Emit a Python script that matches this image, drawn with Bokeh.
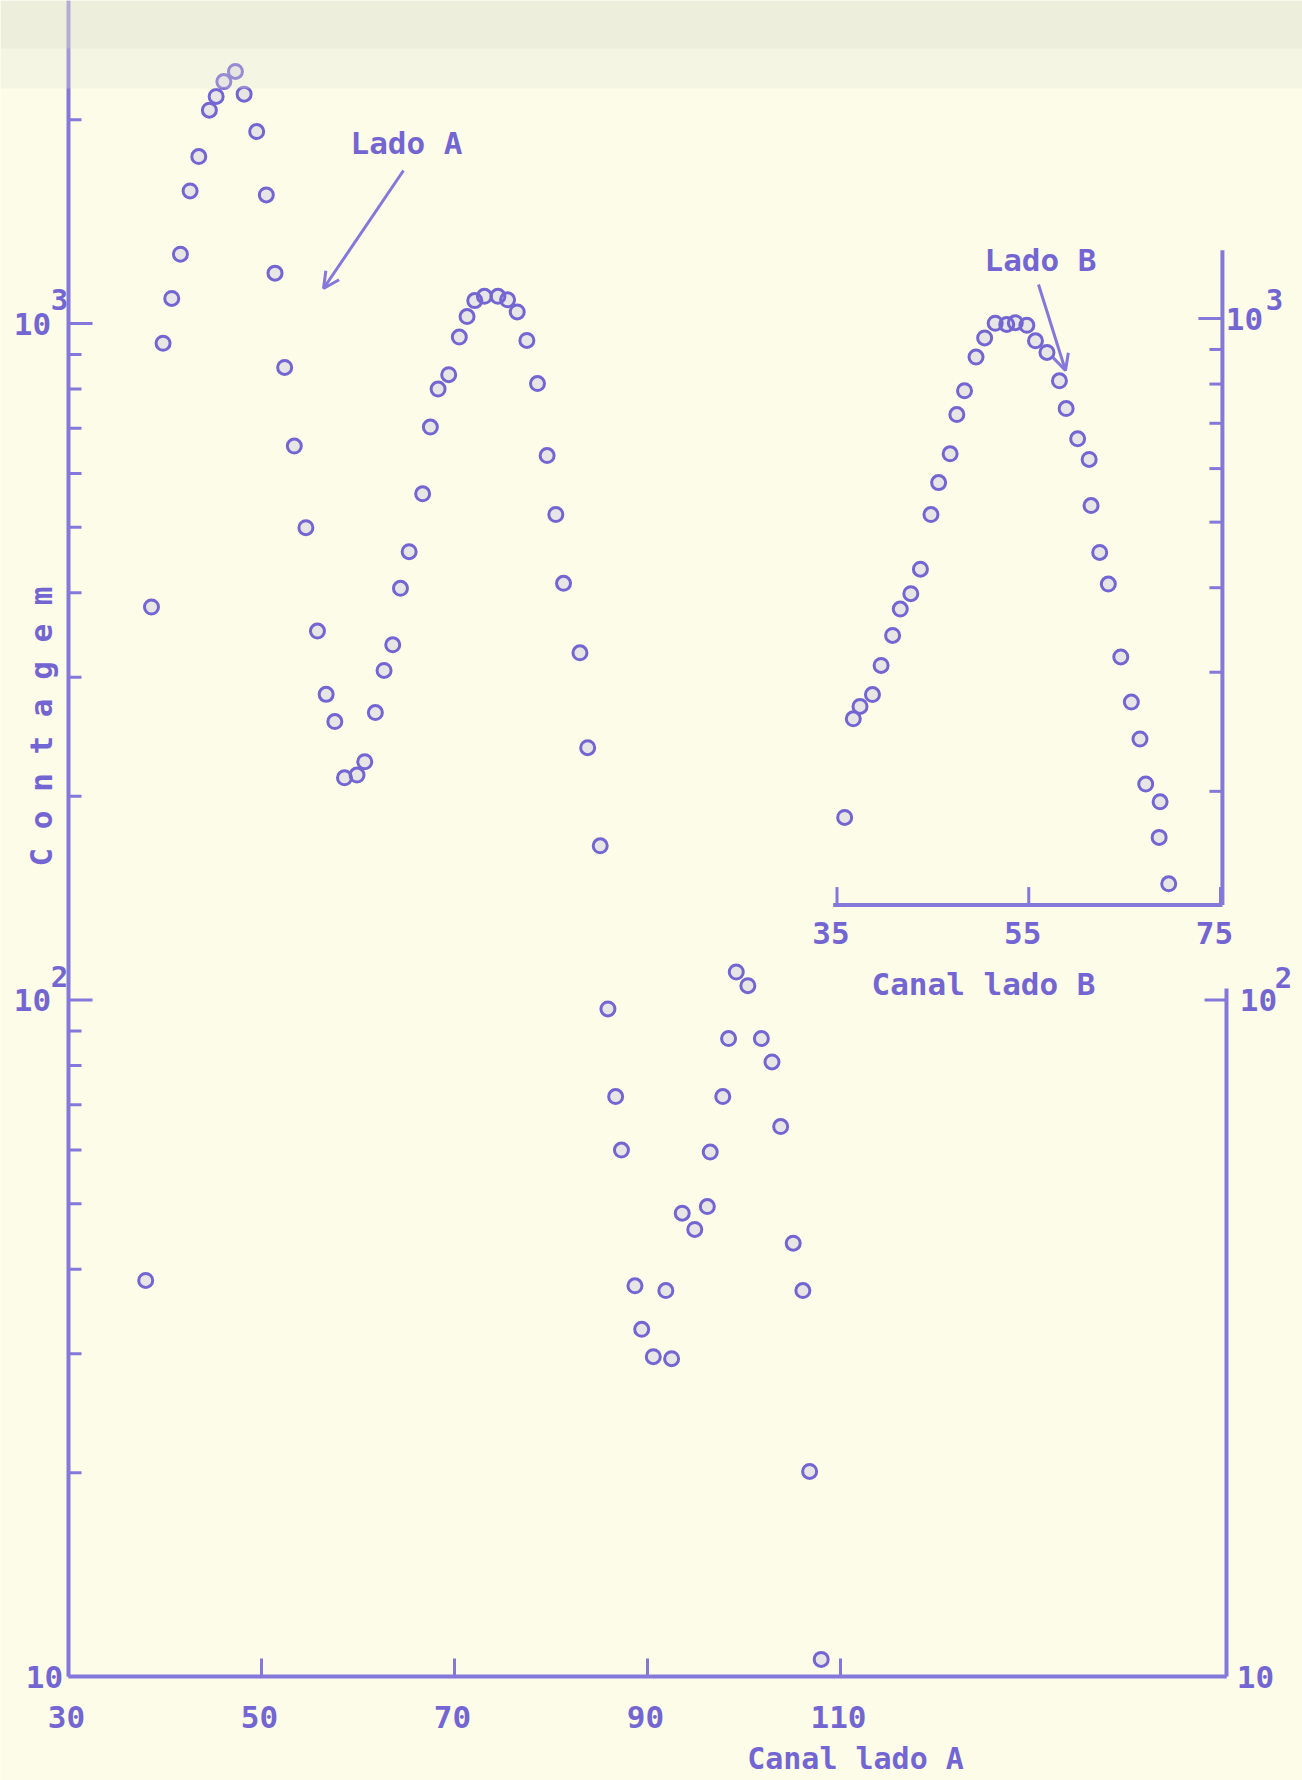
import math
from bokeh.plotting import figure
from bokeh.models import Range1d, LogScale, Arrow, OpenHead, BoxAnnotation
from bokeh.core.properties import value
from bokeh.embed import file_html
from bokeh.resources import INLINE

# ---------------- data ----------------
canal_a = [38.0, 38.6, 39.8, 40.7, 41.6, 42.6, 43.5, 44.6, 45.3, 46.1,
           47.3, 48.2, 49.5, 50.5, 51.4, 52.4, 53.4, 54.6, 55.8, 56.7,
           57.6, 58.6, 59.9, 60.7, 61.8, 62.7, 63.6, 64.4, 65.3, 66.7,
           67.5, 68.3, 69.4, 70.5, 71.3, 72.1, 73.1, 74.5, 75.5, 76.5,
           77.5, 78.6, 79.6, 80.5, 81.3, 83.0, 83.8, 85.1, 85.9, 86.7,
           87.3, 88.7, 89.4, 90.6, 91.9, 92.5, 93.6, 94.9, 96.2, 96.5,
           97.8, 98.4, 99.2, 100.4, 101.8, 102.9, 103.8, 105.1, 106.1, 106.8,
           108.0]
contagem_a = [38.5, 381, 935, 1089, 1266, 1570, 1765, 2067, 2166, 2278,
              2358, 2183, 1922, 1549, 1187, 861, 659, 499, 351, 283,
              258, 213, 215, 225, 266, 307, 335, 406, 460, 560,
              703, 800, 840, 955, 1024, 1081, 1097, 1097, 1084, 1040,
              944, 815, 638, 522, 413, 326, 236, 169, 97, 72,
              60, 37.8, 32.6, 29.7, 37.2, 29.5, 48.4, 45.8, 49.5, 59.6,
              72, 87.7, 110, 105, 87.7, 81, 65, 43.7, 37.2, 20.1,
              10.6]

canal_b = [35.8, 36.7, 37.4, 38.7, 39.6, 40.8, 41.6, 42.7, 43.7, 44.8,
           45.6, 46.8, 47.5, 48.3, 49.5, 50.4, 51.5, 52.7, 53.6, 54.8,
           55.7, 56.9, 58.2, 58.9, 60.1, 61.3, 61.5, 62.4, 63.3, 64.6,
           65.7, 66.6, 67.2, 68.7, 68.6, 69.6]
contagem_b = [183, 256, 267, 278, 307, 340, 372, 392, 426, 513,
              572, 631, 721, 782, 877, 936, 984, 980, 986, 977,
              927, 891, 809, 736, 664, 619, 529, 451, 405, 316,
              271, 239, 205, 193, 171, 146]

# axis A (Lado A)
x_a_start, x_a_end = 30, 150
x_ticks_a = [30, 50, 70, 90, 110]
x_labels_a = ["30", "50", "70", "90", "110"]
y_major = [10, 100, 1000]
y_major_exp = ["", "2", "3"]
y_minor = [20, 30, 40, 50, 60, 70, 80, 90,
           200, 300, 400, 500, 600, 700, 800, 900, 2000]
y_right_top = 104
y_right_major = [10, 100]
y_right_exp = ["", "2"]

# axis B (Lado B, inset)
x_ticks_b = [35, 55, 75]
x_labels_b = ["35", "55", "75"]
x_b_start, x_b_end = 34.6, 75.2
y_b_bottom, y_b_top = 135.8, 1262
inset_y_minor = [200, 300, 400, 500, 600, 700, 800, 900]
inset_y_major = [1000]
inset_y_exp = ["3"]

# ---------------- style ----------------
INK = "#7466d2"
AXIS = "#8478da"
BG = "#fdfce9"
FONT = "DejaVu Sans Mono"
FS = "31px"
FS_EXP = "29px"

# ---------------- geometry (page px of the 1302x1780 reference) ----------------
W, H = 1302, 1780
FL, FR, FB = 68, 1226, 1676        # page px of x=30, x=150, y=10
DEC = 676.5                         # page px per decade
AX = (FR - FL) / (x_a_end - x_a_start)
BX0, BXU = 836.5, (1220 - 836.5) / 40.0   # inset: page px of x=35, px per channel
BY3 = 318                                # inset: page px of 10^3


def dx(X):
    return x_a_start + (X - FL) / AX


def dy(Y):
    return 10 ** (1 + (FB - Y) / DEC)


p = figure(width=W, height=H,
           x_range=Range1d(dx(0), dx(W)), y_range=Range1d(dy(H), dy(0)),
           y_axis_type="log", output_backend="svg", toolbar_location=None,
           x_axis_location=None, y_axis_location=None,
           min_border_left=0, min_border_right=0, min_border_top=0, min_border_bottom=0)
p.background_fill_color = BG
p.border_fill_color = BG
p.outline_line_color = None
p.xgrid.visible = False
p.ygrid.visible = False

p.extra_x_ranges = {"bx": Range1d(35 + (0 - BX0) / BXU, 35 + (W - BX0) / BXU)}
p.extra_y_ranges = {"by": Range1d(10 ** (3 - (H - BY3) / DEC), 10 ** (3 - (0 - BY3) / DEC))}
p.extra_y_scales = {"by": LogScale()}
RB = dict(x_range_name="bx", y_range_name="by")

# scan shading at the top of the sheet
p.add_layout(BoxAnnotation(bottom=dy(88), fill_color="#e4e4d8", fill_alpha=0.30, line_color=None))
p.add_layout(BoxAnnotation(bottom=dy(48), fill_color="#dedfd2", fill_alpha=0.30, line_color=None))

ytop = p.y_range.end


def up(v, px):
    return v * 10 ** (px / DEC)


# ---------------- axes of Lado A ----------------
p.segment(x0=[x_a_start, x_a_start, x_a_end], y0=[y_major[0], y_major[0], y_major[0]],
          x1=[x_a_start, x_a_end, x_a_end], y1=[ytop, y_major[0], y_right_top],
          line_color=AXIS, line_width=4)
# left ticks (pointing inwards)
p.segment(x0=[x_a_start] * len(y_major), y0=y_major,
          x1=[x_a_start + 24 / AX] * len(y_major), y1=y_major, line_color=AXIS, line_width=3)
p.segment(x0=[x_a_start] * len(y_minor), y0=y_minor,
          x1=[x_a_start + 13 / AX] * len(y_minor), y1=y_minor, line_color=AXIS, line_width=3)
# bottom ticks
p.segment(x0=x_ticks_a, y0=[y_major[0]] * len(x_ticks_a), x1=x_ticks_a,
          y1=[up(y_major[0], 18)] * len(x_ticks_a), line_color=AXIS, line_width=3)
# right ticks
p.segment(x0=[x_a_end] * len(y_right_major), y0=y_right_major,
          x1=[x_a_end - 22 / AX] * len(y_right_major), y1=y_right_major,
          line_color=AXIS, line_width=3)

# ---------------- axes of Lado B (inset) ----------------
p.segment(x0=[x_b_start, x_b_end], y0=[y_b_bottom, y_b_bottom], x1=[x_b_end, x_b_end],
          y1=[y_b_bottom, y_b_top], line_color=AXIS, line_width=4, **RB)
p.segment(x0=x_ticks_b, y0=[y_b_bottom] * len(x_ticks_b), x1=x_ticks_b,
          y1=[up(y_b_bottom, 18)] * len(x_ticks_b), line_color=AXIS, line_width=3, **RB)
p.segment(x0=[x_b_end] * len(inset_y_minor), y0=inset_y_minor,
          x1=[x_b_end - 13 / BXU] * len(inset_y_minor), y1=inset_y_minor,
          line_color=AXIS, line_width=3, **RB)
p.segment(x0=[x_b_end] * len(inset_y_major), y0=inset_y_major,
          x1=[x_b_end - 24 / BXU] * len(inset_y_major), y1=inset_y_major,
          line_color=AXIS, line_width=3, **RB)

# ---------------- points ----------------
p.scatter(canal_a, contagem_a, marker="circle", size=14, line_color=INK, line_width=3,
          fill_color=INK, fill_alpha=0.15)
p.scatter(canal_b, contagem_b, marker="circle", size=14, line_color=INK, line_width=3,
          fill_color=INK, fill_alpha=0.15, **RB)


# ---------------- texts ----------------
def txt(xs, ys, texts, size=FS, xo=0, yo=0, angle=0.0, **kw):
    p.text(x=xs, y=ys, text=texts, text_font=value(FONT), text_font_size=size,
           text_font_style="bold", text_color=INK, text_align="center",
           text_baseline="middle", x_offset=xo, y_offset=yo, angle=angle, **kw)


# tick labels, Lado A
txt(x_ticks_a, [y_major[0]] * len(x_ticks_a), x_labels_a, xo=-2, yo=40)
txt([x_a_start] * len(y_major), y_major, ["10"] * len(y_major), xo=[-24, -36, -36])
txt([x_a_start] * len(y_major), y_major, y_major_exp, size=FS_EXP, xo=-9, yo=-24)
txt([x_a_end] * len(y_right_major), y_right_major, ["10"] * len(y_right_major), xo=[29, 32])
txt([x_a_end] * len(y_right_major), y_right_major, y_right_exp, size=FS_EXP, xo=57, yo=-23)
# tick labels, Lado B
txt(x_ticks_b, [y_b_bottom] * len(x_ticks_b), x_labels_b, xo=-6, yo=28, **RB)
txt([x_b_end] * len(inset_y_major), inset_y_major, ["10"] * len(inset_y_major), xo=22, **RB)
txt([x_b_end] * len(inset_y_major), inset_y_major, inset_y_exp, size=FS_EXP, xo=52, yo=-19, **RB)

# axis titles and notes
txt([dx(855)], [dy(1758)], ["Canal lado A"], size="30px")
txt([dx(983)], [dy(983)], ["Canal lado B"])
txt([dx(40)], [dy(726)], ["C o n t a g e m"], angle=math.pi / 2)
txt([dx(406)], [dy(142)], ["Lado A"])
txt([dx(1040)], [dy(259)], ["Lado B"])

p.add_layout(Arrow(end=OpenHead(size=16, line_color=AXIS, line_width=3),
                   x_start=dx(403), y_start=dy(170), x_end=dx(323), y_end=dy(288),
                   line_color=AXIS, line_width=3))
p.add_layout(Arrow(end=OpenHead(size=16, line_color=AXIS, line_width=3),
                   x_start=dx(1038), y_start=dy(284), x_end=dx(1065), y_end=dy(370),
                   line_color=AXIS, line_width=3))

open("out.html", "w").write(file_html(p, INLINE))
